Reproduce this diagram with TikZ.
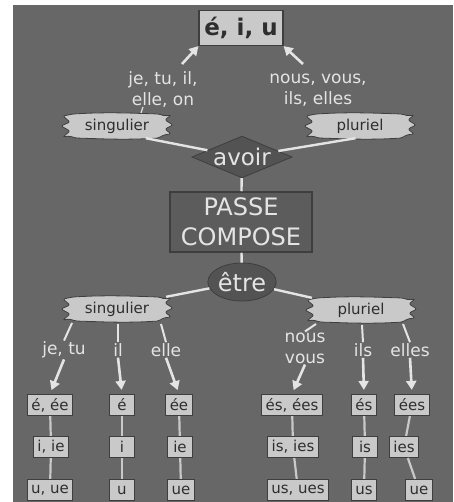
\documentclass[tikz,border=0pt]{standalone}
\usepackage{fontspec}
\setmainfont{DejaVu Sans}
\usetikzlibrary{shapes.geometric,arrows.meta,calc}
\definecolor{bg}{HTML}{676767}
\definecolor{boxfill}{HTML}{C9C9C9}
\definecolor{boxline}{HTML}{3E3E3E}
\definecolor{boxtext}{HTML}{2E2E2E}
\definecolor{lite}{HTML}{E4E4E4}
\definecolor{darkfill}{HTML}{535353}
\definecolor{pcfill}{HTML}{5C5C5C}
\tikzset{
  lbox/.style={draw=boxline, fill=boxfill, line width=1.2pt, inner xsep=4pt, inner ysep=1pt,
    text=boxtext, font=\fontsize{15}{17}\selectfont, minimum height=21pt, minimum width=25pt},
  blob/.style={rectangle, minimum width=98pt, minimum height=24pt, inner sep=0pt,
    text=boxtext, font=\fontsize{15}{17}\selectfont},
  blobpath/.style={fill=boxfill, draw=boxline, line width=0.8pt, rounded corners=2pt},
  lab/.style={text=lite, font=\fontsize{17}{21}\selectfont, align=center, inner sep=1pt},
  conn/.style={draw=lite, line width=2.4pt},
  thin/.style={draw=boxfill, line width=2.2pt},
  arr/.style={draw=lite, line width=2.6pt, -{Triangle[width=10pt,length=9pt]}},
}
\newcommand\blobat[1]{%
  \path[blobpath, shift={(#1)}] (-44,-12) .. controls (-10,-14) and (10,-13) .. (42,-12)
    -- (48,-10) -- (54,-11) -- (48,-6) -- (56,-1) -- (48,3) -- (54,8) -- (46,9) -- (42,12)
    .. controls (10,14) and (-10,13) .. (-42,12)
    -- (-47,10) -- (-54,11) -- (-47,5) -- (-56,0) -- (-47,-4) -- (-54,-10) -- cycle;}
\begin{document}
\begin{tikzpicture}[x=1pt,y=-1pt]
\useasboundingbox (0,0) rectangle (453,502);
\fill[white] (0,0) rectangle (453,502);
\fill[bg] (13,5) rectangle (453,502);

% ---------- blob outlines (behind their text nodes) ----------
\blobat{117,126}
\blobat{360,126}
\blobat{117,309}
\blobat{361,310}

% ---------- nodes ----------
\node[lbox, font=\bfseries\fontsize{23}{25}\selectfont, minimum width=84pt, minimum height=35pt] (eiu) at (241,28) {é, i, u};
\node[lab] (tl) at (163,90) {je, tu, il,\\elle, on};
\node[lab] (tr) at (318,90) {nous, vous,\\ils, elles};
\node[blob] (sing1) at (117,126) {singulier};
\node[blob] (plur1) at (360,126) {pluriel};
\node[diamond, aspect=2.4, fill=darkfill, draw=boxline, line width=0.8pt, inner sep=0pt,
      minimum width=94pt, minimum height=40pt, text=lite, font=\fontsize{23}{25}\selectfont] (avoir) at (242,157) {avoir};
\node[draw=boxline, line width=1.5pt, fill=pcfill, minimum width=142pt, minimum height=60pt, inner sep=0pt,
      text=lite, align=center, font=\fontsize{24}{30}\selectfont] (pc) at (241,222) {PASSE\\COMPOSE};
\node[ellipse, fill=darkfill, draw=boxline, line width=0.8pt, minimum width=68pt, minimum height=38pt, inner sep=0pt,
      text=lite, font=\fontsize{24}{26}\selectfont] (etre) at (242,282) {être};
\node[blob] (sing2) at (117,309) {singulier};
\node[blob] (plur2) at (361,310) {pluriel};

\node[lab] (jt) at (64,350) {je, tu};
\node[lab] (il) at (118,350) {il};
\node[lab] (el) at (166,350) {elle};
\node[lab] (nv) at (305,348) {nous\\vous};
\node[lab] (ils) at (363,350) {ils};
\node[lab] (els) at (410,350) {elles};

\node[lbox] (a1) at (50,405) {é, ée};
\node[lbox] (b1) at (122,405) {é};
\node[lbox] (c1) at (179,405) {ée};
\node[lbox] (a2) at (51,447) {i, ie};
\node[lbox] (b2) at (122,447) {i};
\node[lbox] (c2) at (180,447) {ie};
\node[lbox] (a3) at (50,490) {u, ue};
\node[lbox] (b3) at (122,490) {u};
\node[lbox] (c3) at (181,490) {ue};

\node[lbox] (d1) at (292,405) {és, ées};
\node[lbox] (e1) at (364,405) {és};
\node[lbox] (f1) at (412,405) {ées};
\node[lbox] (d2) at (293,447) {is, ies};
\node[lbox] (e2) at (365,447) {is};
\node[lbox] (f2) at (404,447) {ies};
\node[lbox] (d3) at (298,490) {us, ues};
\node[lbox] (e3) at (364,490) {us};
\node[lbox] (f3) at (419,490) {ue};

% ---------- coordinates ----------
\coordinate (ta) at (182,64);
\coordinate (tb) at (303,64);
\coordinate (sa) at (72,323);
\coordinate (sb) at (118,324);
\coordinate (sc) at (161,324);
\coordinate (pa) at (316,324);
\coordinate (pb) at (362,325);
\coordinate (pc2) at (403,324);
\coordinate (tk) at (143,107);
\coordinate (tk0) at (141,113);

% ---------- connectors ----------
\draw[arr] (ta) -- (eiu.south west);
\draw[arr] (tb) -- (eiu.south east);
\draw[conn, line width=1.2pt] (tk0) -- (tk);
\draw[conn] (sing1.337) -- (avoir);
\draw[conn] (plur1.250) -- (avoir);
\draw[conn] (avoir) -- (pc);
\draw[conn] (pc) -- (etre);
\draw[conn] (etre) -- (sing2.north east);
\draw[conn] (etre) -- (plur2.north west);

\draw[conn, line width=2pt] (sa) -- (jt.north);
\draw[conn, line width=2pt] (sb) -- (il.north);
\draw[conn, line width=2pt] (sc) -- (el.north);
\draw[conn, line width=2pt] (pa) -- (nv.north);
\draw[conn, line width=2pt] (pb) -- (ils.north);
\draw[conn, line width=2pt] (pc2) -- (els.north);

\draw[arr, shorten >=4pt] (jt.south) -- (a1.north);
\draw[arr, shorten >=4pt] (il.south) -- (b1.north);
\draw[arr, shorten >=4pt] (el.south) -- (c1.north);
\draw[arr, shorten >=4pt] (nv.south) -- (d1.north);
\draw[arr, shorten >=4pt] (ils.south) -- (e1.north);
\draw[arr, shorten >=4pt] (els.south) -- (f1.north);

\draw[thin] (a1) -- (a2); \draw[thin] (a2) -- (a3);
\draw[thin] (b1) -- (b2); \draw[thin] (b2) -- (b3);
\draw[thin] (c1) -- (c2); \draw[thin] (c2) -- (c3);
\draw[thin] (d1) -- (d2); \draw[thin] (d2) -- (d3);
\draw[thin] (e1) -- (e2); \draw[thin] (e2) -- (e3);
\draw[thin] (f1) -- (f2); \draw[thin] (f2) -- (f3);
\end{tikzpicture}
\end{document}
